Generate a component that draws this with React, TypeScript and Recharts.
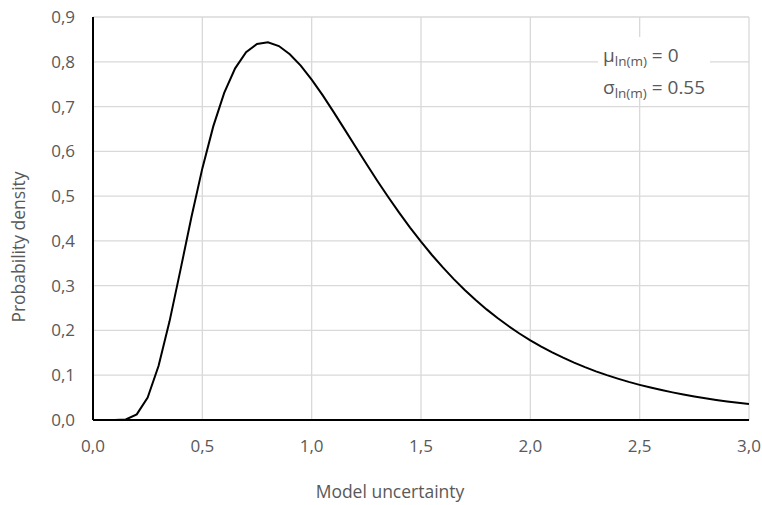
import React from 'react';
import { LineChart, Line, XAxis, YAxis, CartesianGrid } from 'recharts';

const modelUncertainty = [
  0, 0.05, 0.1, 0.15, 0.2, 0.25, 0.3, 0.35, 0.4, 0.45,
  0.5, 0.55, 0.6, 0.65, 0.7, 0.75, 0.8, 0.85, 0.9, 0.95,
  1.0, 1.05, 1.1, 1.15, 1.2, 1.25, 1.3, 1.35, 1.4, 1.45,
  1.5, 1.55, 1.6, 1.65, 1.7, 1.75, 1.8, 1.85, 1.9, 1.95,
  2.0, 2.05, 2.1, 2.15, 2.2, 2.25, 2.3, 2.35, 2.4, 2.45,
  2.5, 2.55, 2.6, 2.65, 2.7, 2.75, 2.8, 2.85, 2.9, 2.95, 3.0,
];

const probabilityDensity = [
  0, 0, 0, 0.0011, 0.0126, 0.0501, 0.1211, 0.2203, 0.3352, 0.4527,
  0.5619, 0.6557, 0.7305, 0.7854, 0.8212, 0.8397, 0.8435, 0.8351, 0.8169, 0.7913,
  0.7602, 0.7254, 0.6881, 0.6496, 0.6107, 0.5722, 0.5344, 0.498, 0.463, 0.4297,
  0.3982, 0.3685, 0.3407, 0.3147, 0.2904, 0.2679, 0.247, 0.2277, 0.2098, 0.1932,
  0.178, 0.1639, 0.151, 0.1391, 0.1281, 0.118, 0.1087, 0.1002, 0.0924, 0.0851,
  0.0785, 0.0724, 0.0668, 0.0617, 0.057, 0.0526, 0.0486, 0.0449, 0.0415, 0.0384, 0.0355,
];

const xTicks = [0, 0.5, 1.0, 1.5, 2.0, 2.5, 3.0];
const yTicks = [0, 0.1, 0.2, 0.3, 0.4, 0.5, 0.6, 0.7, 0.8, 0.9];

const data = modelUncertainty.map((x, i) => ({ x, y: probabilityDensity[i] }));

const FONT = "'Open Sans', 'Liberation Sans', sans-serif";
const GRAY = '#595959';
const fmt = (v: number) => v.toFixed(1).replace('.', ',');

export default function App() {
  return (
    <div style={{ position: 'absolute', left: 0, top: 0, width: 762, height: 505, background: '#fff', fontFamily: FONT, overflow: 'hidden' }}>
      <LineChart width={762} height={505} data={data} margin={{ top: 17, right: 13, left: 33, bottom: 55 }}>
        <CartesianGrid stroke="#d9d9d9" strokeWidth={1.3} horizontalValues={yTicks} verticalValues={xTicks} />
        <XAxis
          dataKey="x"
          type="number"
          domain={[0, 3]}
          ticks={xTicks}
          tickFormatter={fmt}
          height={30}
          tickLine={false}
          tickSize={0}
          tickMargin={20}
          stroke="#000"
          strokeWidth={2}
          tick={{ fill: GRAY, fontSize: 17, fontFamily: FONT }}
          allowDataOverflow
        />
        <YAxis
          type="number"
          domain={[0, 0.9]}
          ticks={yTicks}
          tickFormatter={fmt}
          width={60}
          tickLine={false}
          tickSize={0}
          tickMargin={18}
          stroke="#000"
          strokeWidth={2}
          tick={{ fill: GRAY, fontSize: 17, fontFamily: FONT }}
          allowDataOverflow
        />
        <Line
          dataKey="y"
          type="linear"
          stroke="#000"
          strokeWidth={2}
          dot={false}
          isAnimationActive={false}
        />
      </LineChart>
      <div
        style={{
          position: 'absolute', left: 598, top: 37, width: 112, height: 60, background: '#fff',
          color: GRAY, fontSize: 19, lineHeight: '26px', paddingLeft: 5, boxSizing: 'border-box', paddingTop: 5,
          whiteSpace: 'nowrap',
        }}
      >
        <div>μ<sub style={{ fontSize: 13.5, verticalAlign: '-4px' }}>ln(m)</sub> = 0</div>
        <div>σ<sub style={{ fontSize: 13.5, verticalAlign: '-4px' }}>ln(m)</sub> = 0.55</div>
      </div>
      <div
        style={{
          position: 'absolute', left: 18, top: 247, width: 0, height: 0,
        }}
      >
        <div
          style={{
            position: 'absolute', left: 0, top: 0, transform: 'translate(-50%, -50%) rotate(-90deg)',
            whiteSpace: 'nowrap', color: GRAY, fontSize: 17.5,
          }}
        >
          Probability density
        </div>
      </div>
      <div
        style={{
          position: 'absolute', left: 390, top: 491, transform: 'translate(-50%, -50%)',
          whiteSpace: 'nowrap', color: GRAY, fontSize: 17.5, lineHeight: '22px',
        }}
      >
        Model uncertainty
      </div>
    </div>
  );
}
